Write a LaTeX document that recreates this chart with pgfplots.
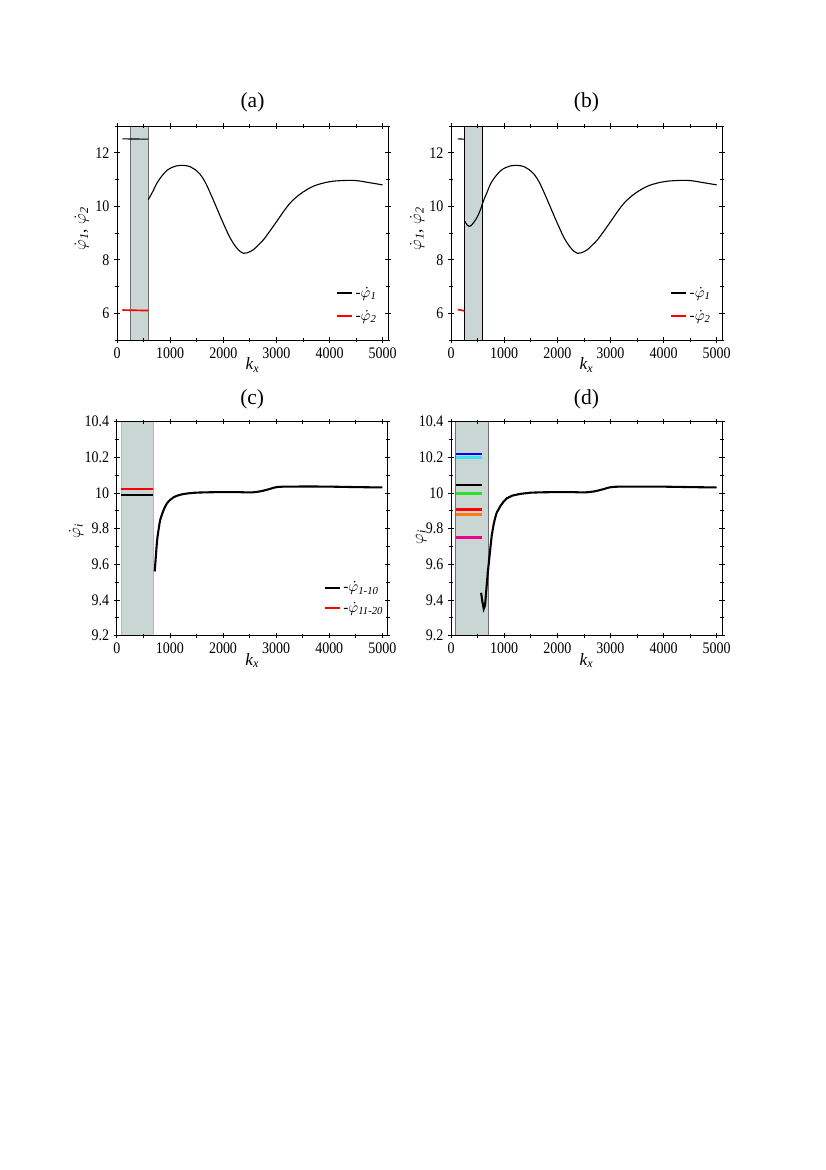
\documentclass[border=0pt]{standalone}
\usepackage{amsmath}
\usepackage{pgfplots}
\pgfplotsset{compat=1.18}
\usepackage{fontspec}
\setmainfont{Liberation Serif}
\newfontfamily\tickfont[FakeStretch=0.87]{Liberation Serif}

\definecolor{shade}{RGB}{201,214,211}
\definecolor{shadeedge}{RGB}{110,110,110}
\definecolor{cyanl}{RGB}{60,225,240}
\definecolor{greenl}{RGB}{40,225,40}
\definecolor{orangel}{RGB}{255,120,20}

\pgfplotsset{
  panel/.style={
    scale only axis, width=195.4pt, height=154.3pt,
    anchor=north west, axis on top,
    xmin=0, xmax=5100,
    xtick={0,1000,...,5000}, minor xtick={500,1500,...,4500},
    tick align=center, major tick length=4pt, minor tick length=3pt,
    every tick/.style={black, line width=0.5pt},
    axis line style={line width=0.6pt},
    /pgf/number format/1000 sep={},
    /pgf/number format/assume math mode=true,
    tick label style={font=\tickfont\fontsize{11.6}{12}\selectfont},
    label style={font=\rmfamily\fontsize{12.5}{13}\selectfont},
    xlabel={\itshape k\textsubscript{x}},
    xlabel style={at={(axis description cs:0.5,-0.117)}, anchor=center},
    title style={at={(axis description cs:0.5,1.07)}, anchor=center, yshift=0pt,
                 font=\rmfamily\fontsize{15.5}{16}\selectfont},
    legend style={draw=none, fill=none, font=\rmfamily\fontsize{11}{12}\selectfont,
                  anchor=south east, row sep=3pt},
    legend cell align=left,
    legend image code/.code={\draw[#1] (0pt,0pt) -- (11pt,0pt);},
  },
}

\begin{document}
\begin{tikzpicture}
\path[use as bounding box] (0pt,0pt) rectangle (595pt,-843.8pt);

% (a)
\begin{axis}[panel, at={(84.4pt,-90.9pt)}, title={(a)},
  ymin=5, ymax=13, ytick={6,8,10,12}, minor ytick={5,7,9,11,13},
  ylabel={$\dot\varphi_{\mathit 1}$, $\dot\varphi_{\mathit 2}$},
  ylabel style={at={(axis description cs:-0.13,0.52)}, anchor=center},
  legend style={at={(axis description cs:0.985,0.055)}, row sep=4pt}]
\addplot[fill=shade, draw=shadeedge, line width=0.6pt, forget plot]
  coordinates {(250,5) (250,13) (590,13) (590,5)} -- cycle;
\addplot[black, line width=0.8pt] coordinates {(100,12.52) (590,12.51)};
\addlegendentry{-$\dot\varphi_{\mathit 1}$}
\addplot[red, line width=1.2pt] coordinates {(100,6.12) (590,6.10)};
\addlegendentry{-$\dot\varphi_{\mathit 2}$}
\addplot[black, line width=0.8pt, smooth, tension=0.6, forget plot] coordinates {
  (590,10.25) (680,10.58) (752,10.87) (850,11.15) (940,11.34) (1030,11.45)
  (1120,11.51) (1250,11.53) (1378,11.48) (1470,11.37) (1566,11.19) (1660,10.90)
  (1754,10.50) (1850,10.06) (1942,9.63) (2040,9.19) (2130,8.81) (2230,8.50)
  (2318,8.31) (2380,8.24) (2450,8.26) (2510,8.31) (2569,8.38) (2660,8.55)
  (2757,8.75) (2880,9.08) (3008,9.44) (3130,9.79) (3258,10.12) (3410,10.40)
  (3571,10.62) (3720,10.77) (3885,10.87) (4010,10.92) (4135,10.95) (4386,10.97)
  (4550,10.95) (4699,10.90) (4850,10.85) (5000,10.80)};
\end{axis}

% (b)
\begin{axis}[panel, at={(325.3pt,-90.9pt)}, title={(b)},
  ymin=5, ymax=13, ytick={6,8,10,12}, minor ytick={5,7,9,11,13},
  ylabel={$\dot\varphi_{\mathit 1}$, $\dot\varphi_{\mathit 2}$},
  ylabel style={at={(axis description cs:-0.125,0.52)}, anchor=center},
  legend style={at={(axis description cs:0.985,0.055)}, row sep=4pt}]
\addplot[fill=shade, draw=black, line width=0.6pt, forget plot]
  coordinates {(250,5) (250,13) (590,13) (590,5)} -- cycle;
\addplot[black, line width=0.8pt] coordinates {(126,12.52) (250,12.51)};
\addlegendentry{-$\dot\varphi_{\mathit 1}$}
\addplot[red, line width=1.2pt] coordinates {(126,6.14) (250,6.09)};
\addlegendentry{-$\dot\varphi_{\mathit 2}$}
\addplot[black, line width=0.8pt, smooth, tension=0.6, forget plot] coordinates {
  (264,9.44) (296,9.31) (340,9.25) (380,9.28) (421,9.38) (470,9.52) (516,9.69)
  (555,9.88) (591,10.10) (630,10.30) (673,10.50) (752,10.87) (850,11.15)
  (940,11.34) (1030,11.45)
  (1120,11.51) (1250,11.53) (1378,11.48) (1470,11.37) (1566,11.19) (1660,10.90)
  (1754,10.50) (1850,10.06) (1942,9.63) (2040,9.19) (2130,8.81) (2230,8.50)
  (2318,8.31) (2380,8.24) (2450,8.26) (2510,8.31) (2569,8.38) (2660,8.55)
  (2757,8.75) (2880,9.08) (3008,9.44) (3130,9.79) (3258,10.12) (3410,10.40)
  (3571,10.62) (3720,10.77) (3885,10.87) (4010,10.92) (4135,10.95) (4386,10.97)
  (4550,10.95) (4699,10.90) (4850,10.85) (5000,10.80)};
\end{axis}

% (c)
\begin{axis}[panel, at={(84.2pt,-304.1pt)}, title={(c)},
  title style={at={(axis description cs:0.5,1.064)}},
  ymin=9.2, ymax=10.4, ytick={9.2,9.4,...,10.41}, minor ytick={9.3,9.5,...,10.31},
  yticklabel style={/pgf/number format/fixed},
  ylabel={$\dot\varphi_{\mathit i}$},
  ylabel style={at={(axis description cs:-0.15,0.49)}, anchor=center},
  legend style={at={(axis description cs:1.01,0.072)}, row sep=2pt}]
\addplot[fill=shade, draw=shadeedge!50, line width=0.6pt, forget plot]
  coordinates {(80,9.2) (80,10.4) (690,10.4) (690,9.2)} -- cycle;
\addplot[black, line width=1.2pt] coordinates {(80,9.988) (690,9.988)};
\addlegendentry{-$\dot\varphi_{\text{\itshape 1-10}}$}
\addplot[red, line width=1.2pt] coordinates {(80,10.024) (690,10.024)};
\addlegendentry{-$\dot\varphi_{\text{\itshape 11-20}}$}
\addplot[black, line width=1.5pt, smooth, tension=0.5, forget plot] coordinates {
  (715,9.56) (735,9.64) (760,9.735) (790,9.80) (815,9.845) (847,9.876) (890,9.91)
  (941,9.94) (1000,9.96) (1066,9.975) (1150,9.986) (1255,9.994) (1380,9.999)
  (1506,10.002) (1750,10.004) (2008,10.005) (2250,10.005) (2509,10.003)
  (2600,10.005) (2698,10.009) (2800,10.016) (2886,10.023) (2950,10.029)
  (3011,10.033) (3100,10.035) (3262,10.036) (3890,10.036) (4500,10.033)
  (5000,10.031)};
\end{axis}

% (d)
\begin{axis}[panel, at={(325.3pt,-304.1pt)}, title={(d)},
  title style={at={(axis description cs:0.5,1.064)}},
  ymin=9.2, ymax=10.4, ytick={9.2,9.4,...,10.41}, minor ytick={9.3,9.5,...,10.31},
  yticklabel style={/pgf/number format/fixed},
  ylabel={$\varphi_{\mathit i}$},
  ylabel style={at={(axis description cs:-0.11,0.46)}, anchor=center}]
\addplot[fill=shade, draw=shadeedge, line width=0.6pt, forget plot]
  coordinates {(88,9.2) (88,10.4) (704,10.4) (704,9.2)} -- cycle;
\addplot[blue, line width=1.8pt] coordinates {(88,10.218) (591,10.218)};
\addplot[cyanl, line width=1.8pt] coordinates {(88,10.200) (591,10.200)};
\addplot[black, line width=1.8pt] coordinates {(88,10.044) (591,10.044)};
\addplot[greenl, line width=1.8pt] coordinates {(88,9.996) (591,9.996)};
\addplot[red, line width=1.8pt] coordinates {(88,9.908) (591,9.908)};
\addplot[orangel, line width=1.8pt] coordinates {(88,9.880) (591,9.880)};
\addplot[magenta, line width=1.8pt] coordinates {(88,9.750) (591,9.750)};
\addplot[black, line width=1.5pt] coordinates {
  (566,9.44) (590,9.39) (615,9.35) (640,9.37) (665,9.46) (690,9.55) (715,9.62)
  (736,9.68) (765,9.76) (799,9.82) (830,9.86) (860,9.89) (925,9.925) (985,9.95)
  (1050,9.97) (1150,9.985) (1302,9.995) (1506,10.002) (1750,10.004)
  (2008,10.005) (2250,10.005) (2509,10.003) (2600,10.005) (2698,10.009)
  (2800,10.016) (2886,10.023) (2950,10.029) (3011,10.033) (3100,10.035)
  (3262,10.036) (3890,10.036) (4500,10.033) (5000,10.031)};
\end{axis}
\end{tikzpicture}
\end{document}
